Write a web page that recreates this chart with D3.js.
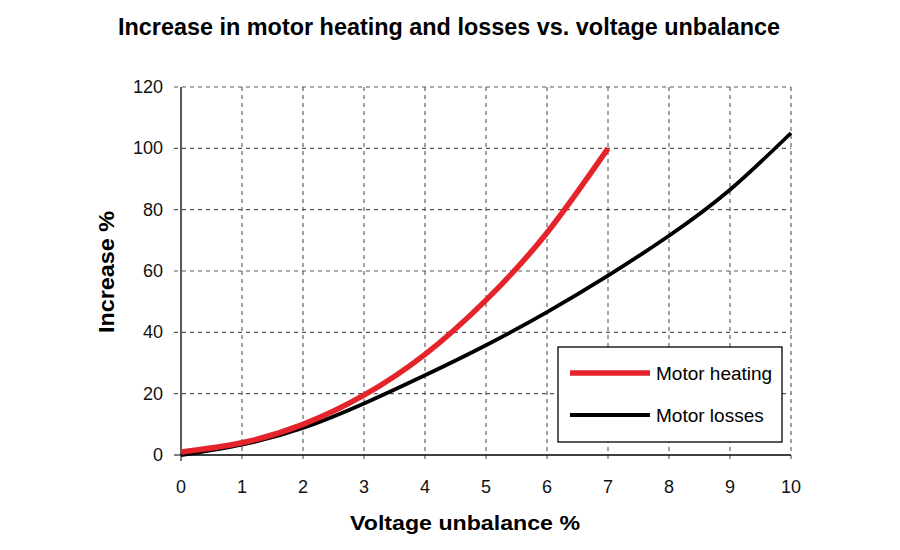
<!DOCTYPE html>
<html><head><meta charset="utf-8">
<script src="https://cdn.jsdelivr.net/npm/d3@7"></script>
<style>body{margin:0;background:#fff}svg{display:block}</style>
</head><body>
<svg id="c" width="900" height="550"></svg>
<script>
const xTicks = [0,1,2,3,4,5,6,7,8,9,10];
const yTicks = [0,20,40,60,80,100,120];
const heatingX = [0,1,2,3,4,5,6,7];
const heatingY = [1,4,10,19.5,32.8,50.5,72.5,100];
const lossesX = [0,1,2,3,4,5,6,7,8,9,10];
const lossesY = [0,3.4,8.8,16.8,26,35.8,46.6,58.5,71.5,86.5,105];
const seriesNames = ["Motor heating","Motor losses"];
const colors = ["#e5232a","#000000"];

const svg = d3.select("#c");
const x = d3.scaleLinear().domain([0,10]).range([181,791]);
const y = d3.scaleLinear().domain([0,120]).range([455,87]);
const font = "'Liberation Sans', Arial, Helvetica, sans-serif";

// grid
const g = svg.append("g");
g.selectAll("line.v").data(xTicks.slice(1)).join("line")
 .attr("x1",d=>x(d)).attr("x2",d=>x(d)).attr("y1",y(120)).attr("y2",y(0)+6)
 .attr("stroke","#555").attr("stroke-width",1.1).attr("stroke-dasharray","4,4");
g.selectAll("line.h").data(yTicks.slice(1)).join("line")
 .attr("x1",x(0)-7).attr("x2",x(10)).attr("y1",d=>y(d)).attr("y2",d=>y(d))
 .attr("stroke","#555").attr("stroke-width",1.1).attr("stroke-dasharray","4,4");
svg.append("line").attr("x1",x(0)).attr("x2",x(0)).attr("y1",y(0)).attr("y2",y(0)+6).attr("stroke","#000");
svg.append("line").attr("x1",x(0)-7).attr("x2",x(0)).attr("y1",y(0)).attr("y2",y(0)).attr("stroke","#000");

// axes lines
svg.append("line").attr("x1",x(0)).attr("x2",x(0)).attr("y1",y(0)).attr("y2",y(120)).attr("stroke","#000").attr("stroke-width",1.3);
svg.append("line").attr("x1",x(0)).attr("x2",x(10)).attr("y1",y(0)).attr("y2",y(0)).attr("stroke","#000").attr("stroke-width",1.3);

// tick labels
svg.selectAll("text.xt").data(xTicks).join("text")
 .attr("x",d=>x(d)).attr("y",493).attr("text-anchor","middle")
 .attr("font-family",font).attr("font-size",18).attr("fill","#111").text(d=>d);
svg.selectAll("text.yt").data(yTicks).join("text")
 .attr("x",163).attr("y",d=>y(d)+6).attr("text-anchor","end")
 .attr("font-family",font).attr("font-size",18).attr("fill","#111").text(d=>d);

// lines
const line = d3.line().x(d=>x(d[0])).y(d=>y(d[1])).curve(d3.curveNatural);
svg.append("path").datum(lossesX.map((v,i)=>[v,lossesY[i]]))
 .attr("d",line).attr("fill","none").attr("stroke",colors[1]).attr("stroke-width",3.8);
svg.append("path").datum(heatingX.map((v,i)=>[v,heatingY[i]]))
 .attr("d",line).attr("fill","none").attr("stroke",colors[0]).attr("stroke-width",5.5);

// legend
svg.append("rect").attr("x",558).attr("y",347).attr("width",224).attr("height",95)
 .attr("fill","#fff").attr("stroke","#000").attr("stroke-width",1.3);
const ly = [373,415];
seriesNames.forEach((n,i)=>{
  svg.append("line").attr("x1",570).attr("x2",650).attr("y1",ly[i]).attr("y2",ly[i])
   .attr("stroke",colors[i]).attr("stroke-width",i==0?5.5:4);
  svg.append("text").attr("x",656).attr("y",ly[i]+6.5).attr("font-family",font)
   .attr("font-size",19).attr("fill","#000").text(n);
});

// titles
svg.append("text").attr("x",449).attr("y",35).attr("text-anchor","middle")
 .attr("font-family",font).attr("font-weight","bold").attr("font-size",23)
 .attr("textLength",662).attr("lengthAdjust","spacingAndGlyphs")
 .text("Increase in motor heating and losses vs. voltage unbalance");
svg.append("text").attr("x",465).attr("y",530).attr("text-anchor","middle")
 .attr("font-family",font).attr("font-weight","bold").attr("font-size",21)
 .attr("textLength",230).attr("lengthAdjust","spacingAndGlyphs")
 .text("Voltage unbalance %");
svg.append("text").attr("transform","translate(114,272) rotate(-90)").attr("text-anchor","middle")
 .attr("font-family",font).attr("font-weight","bold").attr("font-size",22)
 .attr("textLength",122).attr("lengthAdjust","spacingAndGlyphs")
 .text("Increase %");
</script>
</body></html>
